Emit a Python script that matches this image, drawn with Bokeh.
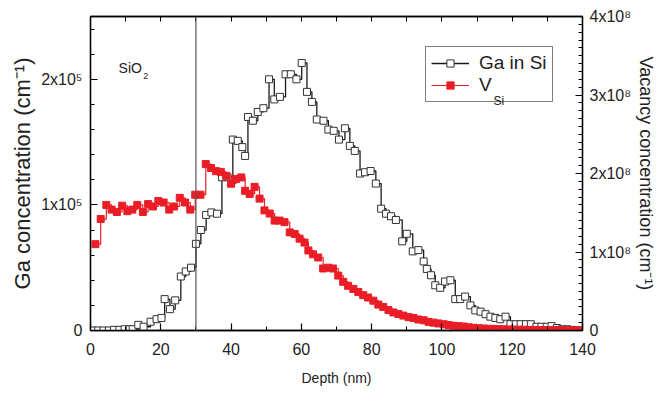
from bokeh.plotting import figure
from bokeh.models import Range1d, LinearAxis, FixedTicker, Span, Label, Legend, LegendItem
from bokeh.embed import file_html
from bokeh.resources import INLINE

# ---------------- data ----------------
depth_ga = [0.7, 2.2, 3.7, 5.2, 6.7, 8.2, 9.7, 11.2, 12.0, 13.6, 15.1, 17.1, 18.8, 20.2,
            21.1, 22.6, 24.1, 25.7, 27.1, 28.6, 30.0, 31.4, 32.9, 34.4, 36.0, 37.4, 39.0,
            40.5, 41.9, 43.2, 44.0, 44.8, 46.2, 47.6, 49.2, 50.8, 52.3, 53.9, 55.5, 57.0,
            58.6, 60.1, 61.6, 63.0, 64.4, 66.3, 67.7, 69.2, 70.7, 72.4, 73.8, 75.2, 76.7,
            78.1, 79.7, 81.2, 82.7, 84.1, 85.5, 86.9, 88.7, 90.0, 91.7, 93.3, 94.8, 95.7,
            96.9, 98.1, 99.5, 100.9, 102.4, 103.8, 105.2, 106.6, 108.1, 109.5, 111.0, 112.4,
            113.8, 115.2, 116.6, 118.1, 119.5, 121.0, 122.4, 123.9, 125.3, 126.9, 128.3,
            129.8, 131.2, 132.7, 134.2, 135.6, 137.1, 138.6]
# Ga concentration, units of 1e5 cm^-1
ga_conc = [0.0, 0.0, 0.0, 0.0, 0.005, 0.005, 0.01, 0.01, 0.01, 0.045, 0.03, 0.07, 0.09, 0.10,
           0.25, 0.17, 0.24, 0.43, 0.47, 0.50, 0.69, 0.80, 0.92, 0.94, 0.93, 1.22, 1.22,
           1.52, 1.51, 1.46, 1.39, 1.70, 1.67, 1.74, 1.77, 2.00, 1.84, 1.86, 2.04, 2.04,
           2.00, 2.13, 1.90, 1.82, 1.68, 1.67, 1.60, 1.59, 1.52, 1.61, 1.47, 1.43, 1.25,
           1.26, 1.27, 1.17, 0.97, 0.93, 0.91, 0.88, 0.71, 0.77, 0.63, 0.64, 0.55, 0.49,
           0.44, 0.36, 0.34, 0.39, 0.40, 0.25, 0.25, 0.27, 0.20, 0.16, 0.15, 0.13,
           0.11, 0.10, 0.09, 0.11, 0.05, 0.05, 0.05, 0.05, 0.05, 0.03, 0.03,
           0.03, 0.035, 0.02, 0.01, 0.01, 0.005, 0.0]

depth_v = [1.4, 2.9, 4.5, 6.0, 7.5, 9.0, 10.5, 11.9, 13.3, 14.9, 16.4, 17.8, 19.3, 20.8,
           22.4, 23.8, 25.4, 26.9, 28.4, 29.8, 31.3, 32.8, 34.3, 35.7, 37.1, 38.6, 40.0,
           41.4, 42.9, 44.0, 45.3, 46.7, 48.1, 49.5, 51.0, 52.4, 53.8, 55.2, 56.7, 58.1,
           59.5, 60.9, 62.0, 63.3, 64.8, 66.2, 67.6, 69.0, 70.5, 71.9, 73.3, 74.8, 76.2,
           77.6, 79.0, 80.5, 81.9, 83.3, 84.8, 86.2, 87.6, 89.0, 90.5, 91.9, 93.3, 94.8,
           96.2, 97.6, 99.0, 100.5, 101.9, 103.3, 104.8, 106.2, 107.6, 109.0, 110.5, 111.9,
           113.3, 114.8, 116.2, 117.6, 119.0, 120.5, 121.9, 123.3, 124.8, 126.2, 127.6,
           129.0, 130.5, 131.9, 133.3, 134.8, 136.2, 137.6, 139.0]
# Vacancy concentration, units of 1e8 cm^-1
v_conc = [1.10, 1.42, 1.60, 1.54, 1.51, 1.59, 1.52, 1.54, 1.60, 1.51, 1.61, 1.58, 1.65, 1.63,
          1.54, 1.58, 1.69, 1.63, 1.54, 1.73, 1.73, 2.12, 2.07, 2.03, 2.02, 1.97, 1.87,
          1.93, 1.95, 1.78, 1.74, 1.83, 1.68, 1.53, 1.49, 1.40, 1.40, 1.38, 1.25, 1.23,
          1.17, 1.12, 1.02, 0.97, 0.93, 0.79, 0.80, 0.79, 0.70, 0.62, 0.57, 0.53, 0.49,
          0.45, 0.42, 0.38, 0.33, 0.30, 0.26, 0.23, 0.21, 0.19, 0.17, 0.16, 0.14, 0.13,
          0.11, 0.10, 0.09, 0.08, 0.07, 0.06, 0.055, 0.05, 0.04, 0.035, 0.03, 0.025,
          0.022, 0.02, 0.017, 0.015, 0.013, 0.011, 0.01, 0.009, 0.008, 0.007, 0.006,
          0.005, 0.005, 0.004, 0.004, 0.003, 0.003, 0.002, 0.002]

x_ticks = [0, 20, 40, 60, 80, 100, 120, 140]
x_minor = [10, 30, 50, 70, 90, 110, 130]
x_tick_labels = ["0", "20", "40", "60", "80", "100", "120", "140"]
ga_ticks = [0, 1e5, 2e5]
ga_tick_labels = ["0", "1x10\u2075", "2x10\u2075"]
v_ticks = [0, 1e8, 2e8, 3e8, 4e8]
v_tick_labels = ["0", "1x10\u2078", "2x10\u2078", "3x10\u2078", "4x10\u2078"]
interface_depth = 30

ga_vals = [v * 1e5 for v in ga_conc]
v_vals = [v * 1e8 for v in v_conc]

FONT = "Liberation Sans"
RED = "#ea1d26"

p = figure(frame_width=492, frame_height=314, x_range=Range1d(0, 140), y_range=Range1d(0, 2.5e5),
           output_backend="svg", toolbar_location=None,
           min_border_left=90, min_border_right=60, min_border_top=16, min_border_bottom=60)
p.extra_y_ranges = {"v": Range1d(0, 4e8)}
p.xgrid.visible = False
p.ygrid.visible = False
p.outline_line_color = "black"
p.outline_line_width = 1.3
p.background_fill_color = "white"
p.border_fill_color = "white"

bottom = p.below[0]
left = p.left[0]

right_axis = LinearAxis(y_range_name="v")
p.add_layout(right_axis, "right")
top_axis = LinearAxis()
p.add_layout(top_axis, "above")

def style_axis(ax):
    ax.axis_line_color = "black"
    ax.axis_line_width = 1.3
    ax.major_tick_line_color = "black"
    ax.minor_tick_line_color = "black"
    ax.major_tick_line_width = 1.2
    ax.minor_tick_line_width = 1.0
    ax.major_tick_in = 7
    ax.major_tick_out = 0
    ax.minor_tick_in = 4
    ax.minor_tick_out = 0
    ax.major_label_text_font = FONT
    ax.major_label_text_font_size = "16px"
    ax.major_label_text_color = "#222222"
    ax.axis_label_text_font = FONT
    ax.axis_label_text_font_style = "normal"
    ax.axis_label_text_color = "#222222"

for ax in (bottom, left, right_axis, top_axis):
    style_axis(ax)

bottom.ticker = FixedTicker(ticks=x_ticks, minor_ticks=x_minor)
bottom.major_label_overrides = {t: s for t, s in zip(x_ticks, x_tick_labels)}
bottom.major_label_standoff = 12
bottom.axis_label = "Depth (nm)"
bottom.axis_label_text_font_size = "14px"
bottom.axis_label_standoff = 12

# top axis: only tick marks (drawn as minor ticks so that no labels are produced)
top_axis.ticker = FixedTicker(ticks=[], minor_ticks=sorted(x_ticks + x_minor))
top_axis.minor_tick_in = 5

ga_minor = [k * 0.2e5 for k in range(1, 13) if k % 5 != 0]
left.ticker = FixedTicker(ticks=ga_ticks, minor_ticks=ga_minor)
left.major_label_overrides = {t: s for t, s in zip(ga_ticks, ga_tick_labels)}
left.major_label_standoff = 8
left.axis_label = "Ga concentration (cm\u207b\u00b9)"
left.axis_label_text_font_size = "22px"
left.axis_label_standoff = 3

v_minor = [k * 0.1e8 for k in range(1, 40) if k % 10 != 0]
right_axis.ticker = FixedTicker(ticks=v_ticks, minor_ticks=v_minor)
right_axis.major_label_overrides = {t: s for t, s in zip(v_ticks, v_tick_labels)}
right_axis.major_label_text_font_size = "16px"
right_axis.major_label_standoff = 7
right_axis.axis_label = "Vacancy concentration (cm\u207b\u00b9)"
right_axis.axis_label_text_font_size = "18px"
right_axis.axis_label_standoff = 2

# interface line
p.add_layout(Span(location=interface_depth, dimension="height", line_color="#555555", line_width=1.2))

# data
ga_line = p.step(depth_ga, ga_vals, mode="after", line_color="#1a1a1a", line_width=1.3)
ga_pts = p.scatter(depth_ga, ga_vals, marker="square", size=7, fill_color="white",
                   line_color="#333333", line_width=1.0)
v_line = p.step(depth_v, v_vals, mode="after", line_color=RED, line_width=1.2, y_range_name="v")
v_pts = p.scatter(depth_v, v_vals, marker="square", size=7, fill_color=RED,
                  line_color=RED, line_width=1.0, y_range_name="v")

legend = Legend(items=[LegendItem(label="Ga in Si", renderers=[ga_line, ga_pts]),
                       LegendItem(label="V", renderers=[v_line, v_pts])],
                location=(335, 228))
legend.padding = 5
legend.spacing = 0
legend.margin = 0
legend.glyph_width = 38
legend.glyph_height = 18
legend.label_height = 18
legend.label_standoff = 10
legend.label_text_font = FONT
legend.label_text_font_size = "19px"
legend.label_text_color = "#222222"
legend.border_line_color = "black"
legend.border_line_width = 1.3
legend.background_fill_alpha = 0.0
p.add_layout(legend, "center")

# subscripts / annotations
p.add_layout(Label(x=114.7, y=1.83e5, text="Si", text_font=FONT, text_font_size="12px",
                   text_color="#222222", text_baseline="alphabetic", level="overlay"))
p.add_layout(Label(x=8.0, y=2.09e5, text="SiO", text_font=FONT, text_font_size="14px",
                   text_color="#222222", text_baseline="alphabetic"))
p.add_layout(Label(x=15.0, y=2.03e5, text="2", text_font=FONT, text_font_size="9px",
                   text_color="#222222", text_baseline="alphabetic"))

open("out.html", "w").write(file_html(p, INLINE))
